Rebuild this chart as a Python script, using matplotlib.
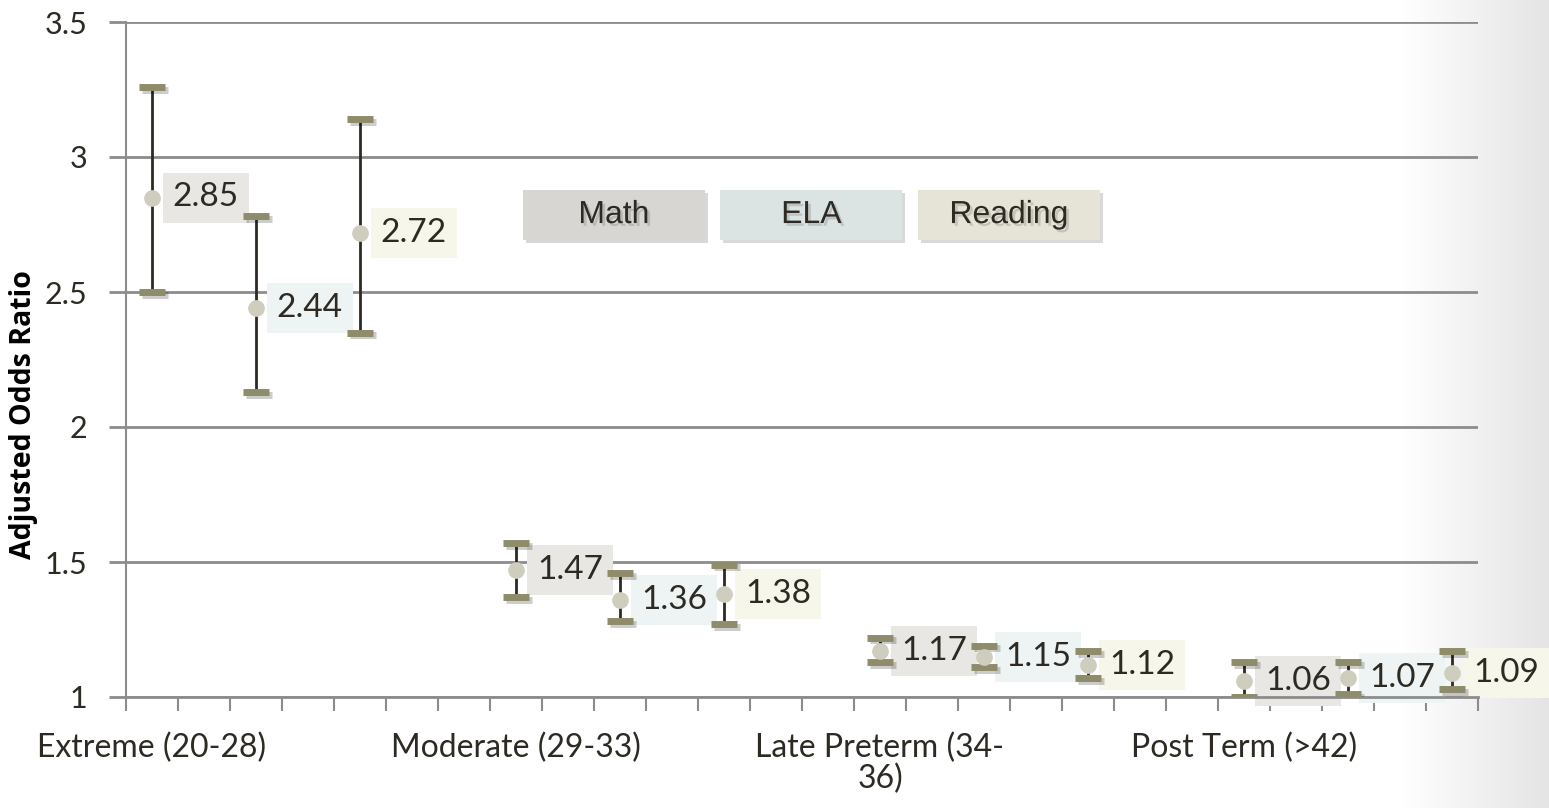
import matplotlib.pyplot as plt
import matplotlib.patheffects as pe
from matplotlib.patches import Rectangle
import numpy as np

groups = ['Extreme (20-28)', 'Moderate (29-33)', 'Late Preterm (34-\n36)', 'Post Term (>42)']
series = ['Math', 'ELA', 'Reading']
odds = {
    'Math':    [2.85, 1.47, 1.17, 1.06],
    'ELA':     [2.44, 1.36, 1.15, 1.07],
    'Reading': [2.72, 1.38, 1.12, 1.09],
}
lower = {
    'Math':    [2.50, 1.37, 1.13, 1.00],
    'ELA':     [2.13, 1.28, 1.11, 1.01],
    'Reading': [2.35, 1.27, 1.07, 1.03],
}
upper = {
    'Math':    [3.26, 1.57, 1.22, 1.13],
    'ELA':     [2.78, 1.46, 1.19, 1.13],
    'Reading': [3.14, 1.49, 1.17, 1.17],
}

label_bg = {'Math': '#e8e7e3', 'ELA': '#eef4f4', 'Reading': '#f7f6ea'}
legend_bg = {'Math': '#d7d6d2', 'ELA': '#dce3e3', 'Reading': '#e6e4d7'}
txt = '#2c2a22'
font = ['Lato', 'DejaVu Sans']

n_slots = 26  # category slots on the x axis
slot_step, group_step = 2, 7

fig = plt.figure(figsize=(15.49, 8.08), dpi=100)

# faint slide gradient on the right edge
bg = fig.add_axes([1400 / 1549, 0, 149 / 1549, 1], zorder=-10)
bg.imshow(np.dstack([np.tile(np.linspace(1, 0.93, 100) ** 1.5, (10, 1))] * 3),
          aspect='auto', extent=[0, 1, 0, 1], vmin=0, vmax=1)
bg.axis('off')

ax = fig.add_axes([126 / 1549, 1 - 697 / 808, 1352 / 1549, 675 / 808])
ax.patch.set_alpha(0)

shadow = [pe.SimplePatchShadow(offset=(2, -2), alpha=0.2), pe.Normal()]
lshadow = [pe.SimpleLineShadow(offset=(2, -2), alpha=0.2), pe.Normal()]

for si, s in enumerate(series):
    for gi in range(len(groups)):
        x = gi * group_step + si * slot_step
        y = odds[s][gi]
        ax.vlines(x, lower[s][gi], upper[s][gi], color='#2c2a22', lw=2, zorder=3)
        for cap in (lower[s][gi], upper[s][gi]):
            ax.plot([x - 0.25, x + 0.25], [cap, cap], color='#8e8c6a', lw=5,
                    solid_capstyle='butt', zorder=4, path_effects=lshadow)
        ax.plot(x, y, 'o', ms=11, color='#cfcdbd', mec='#cfcdbd', zorder=5)
        ax.annotate(f'{y:.2f}', (x, y), xytext=(15, 0), textcoords='offset points',
                    ha='left', va='center', fontsize=24, color=txt, family=font,
                    bbox=dict(boxstyle='square,pad=0.3', fc=label_bg[s], ec='none'),
                    zorder=2)

# legend boxes
for si, s in enumerate(series):
    x0 = (523 + si * 197.5 - 126) / 1352
    r = Rectangle((x0, 0.677), 0.1346, 0.074, transform=ax.transAxes, fc=legend_bg[s],
                  ec='none', zorder=6, path_effects=shadow)
    ax.add_patch(r)
    ax.text(x0 + 0.0673, 0.714, s, transform=ax.transAxes, ha='center', va='center',
            fontsize=23, color=txt, family='Liberation Sans', zorder=7,
            path_effects=[pe.withSimplePatchShadow(offset=(2, -2), alpha=0.15)])

ax.set_xlim(-0.5, n_slots - 0.5)
ax.set_ylim(1, 3.5)
ax.set_yticks([1, 1.5, 2, 2.5, 3, 3.5])
ax.set_yticklabels(['1', '1.5', '2', '2.5', '3', '3.5'])
ax.set_xticks(np.arange(n_slots + 1) - 0.5)
ax.set_xticklabels([])
ax.set_xticks([gi * group_step for gi in range(len(groups))], minor=True)
ax.set_xticklabels(groups, minor=True)
ax.tick_params(axis='x', which='major', length=10, width=1.5, color='#8c8c8c')
ax.tick_params(axis='x', which='minor', length=0, pad=26)
ax.tick_params(axis='y', length=12, width=2, color='#8c8c8c', pad=16)
for lab in ax.get_xticklabels(minor=True):
    lab.set_fontsize(23)
    lab.set_linespacing(1.0)
for lab in ax.get_xticklabels(minor=True) + ax.get_yticklabels():
    lab.set_color(txt)
    lab.set_family(font)
for lab in ax.get_yticklabels():
    lab.set_fontsize(22)

ax.grid(axis='y', color='#8c8c8c', lw=2)
ax.set_axisbelow(True)
for side in ('top', 'right'):
    ax.spines[side].set_visible(False)
ax.spines['left'].set_color('#8c8c8c')
ax.spines['left'].set_linewidth(1.5)
ax.spines['bottom'].set_color('#8c8c8c')
ax.spines['bottom'].set_linewidth(2)

ax.set_ylabel('Adjusted Odds Ratio', fontsize=20.5, fontweight='bold', color='#000000',
              family=['Open Sans', 'DejaVu Sans'])
ax.yaxis.set_label_coords(-0.065, 0.419)

fig.savefig('out.png', dpi=100)
